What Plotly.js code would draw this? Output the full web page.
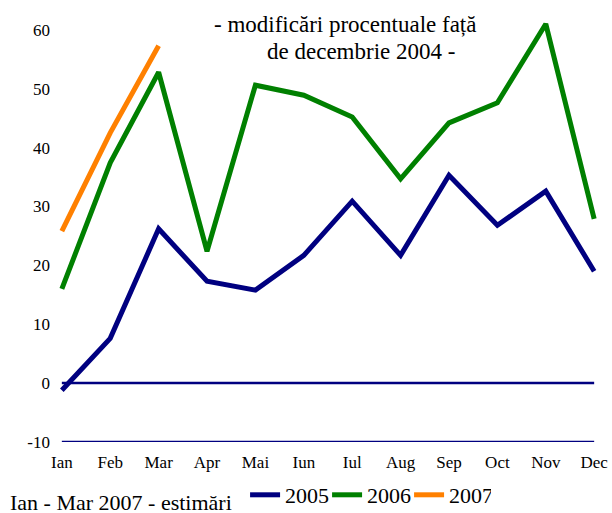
<!DOCTYPE html>
<html><head><meta charset="utf-8">
<script src="https://cdn.plot.ly/plotly-3.0.1.min.js"></script>
<style>html,body{margin:0;padding:0;background:#fff}</style>
</head><body>
<div id="chart" style="width:612px;height:513px"></div>
<script>
const months = ["Ian","Feb","Mar","Apr","Mai","Iun","Iul","Aug","Sep","Oct","Nov","Dec"];
const s2005 = [-1.2, 7.6, 26.2, 17.3, 15.8, 21.7, 30.9, 21.7, 35.3, 26.8, 32.6, 19.0];
const s2006 = [16.0, 37.4, 52.8, 22.4, 50.6, 48.9, 45.2, 34.7, 44.2, 47.6, 61.0, 27.9];
const s2007 = [25.8, 42.5, 57.3];
const yTicks = [-10, 0, 10, 20, 30, 40, 50, 60];
const yTickText = ["-10", "0", "10", "20", "30", "40", "50", "60"];
const titleLines = ["- modificări procentuale față", "de decembrie 2004 -"];
const footnote = "Ian - Mar 2007 - estimări";

const font = "Liberation Serif";
const traces = [
  {x: months, y: s2005, name: "2005", mode: "lines", line: {color: "#000080", width: 5}},
  {x: months, y: s2006, name: "2006", mode: "lines", line: {color: "#008000", width: 5}},
  {x: months.slice(0, s2007.length), y: s2007, name: "2007", mode: "lines", line: {color: "#FF8000", width: 5}}
];
const layout = {
  width: 612, height: 513,
  margin: {l: 57.2, r: 13.2, t: 21.2, b: 71, autoexpand: false},
  paper_bgcolor: "#fff", plot_bgcolor: "#fff",
  font: {family: font, color: "#000", size: 17},
  showlegend: true,
  legend: {orientation: "h", x: 0.347, y: -0.076, xanchor: "left", yanchor: "top",
           font: {family: font, size: 22, color: "#000"}, itemwidth: 30, tracegroupgap: 0,
           entrywidth: 37, entrywidthmode: "pixels", bgcolor: "rgba(0,0,0,0)"},
  xaxis: {type: "category", range: [-0.1, 11.1], showgrid: false, zeroline: false,
          showline: false, ticks: "", tickfont: {family: font, size: 17}, automargin: false,
          ticklabelstandoff: 8},
  yaxis: {range: [-10, 61.5], tickvals: yTicks, ticktext: yTickText, showgrid: false, zeroline: false,
          showline: false, ticks: "", ticklabelstandoff: 6, tickfont: {family: font, size: 17},
          automargin: false},
  shapes: [
    {type: "line", xref: "x", x0: months[0], x1: months[months.length - 1], yref: "y", y0: 0, y1: 0,
     line: {color: "#000080", width: 2.5}, layer: "below"},
    {type: "line", xref: "x", x0: months[0], x1: months[months.length - 1], yref: "y", y0: -10, y1: -10,
     line: {color: "#000080", width: 2.5}, layer: "below"}
  ],
  annotations: [
    {text: titleLines[0], xref: "paper", yref: "paper",
     x: 0.5314, y: 0.9921, xanchor: "center", yanchor: "middle", showarrow: false,
     font: {family: font, size: 23}},
    {text: titleLines[1], xref: "paper", yref: "paper",
     x: 0.5609, y: 0.9268, xanchor: "center", yanchor: "middle", showarrow: false,
     font: {family: font, size: 23}},
    {text: footnote, xref: "paper", yref: "paper",
     x: -0.0899, y: -0.143, xanchor: "left", yanchor: "middle", showarrow: false,
     font: {family: font, size: 22}}
  ]
};
Plotly.newPlot("chart", traces, layout, {displayModeBar: false, staticPlot: true});
</script>
</body></html>
